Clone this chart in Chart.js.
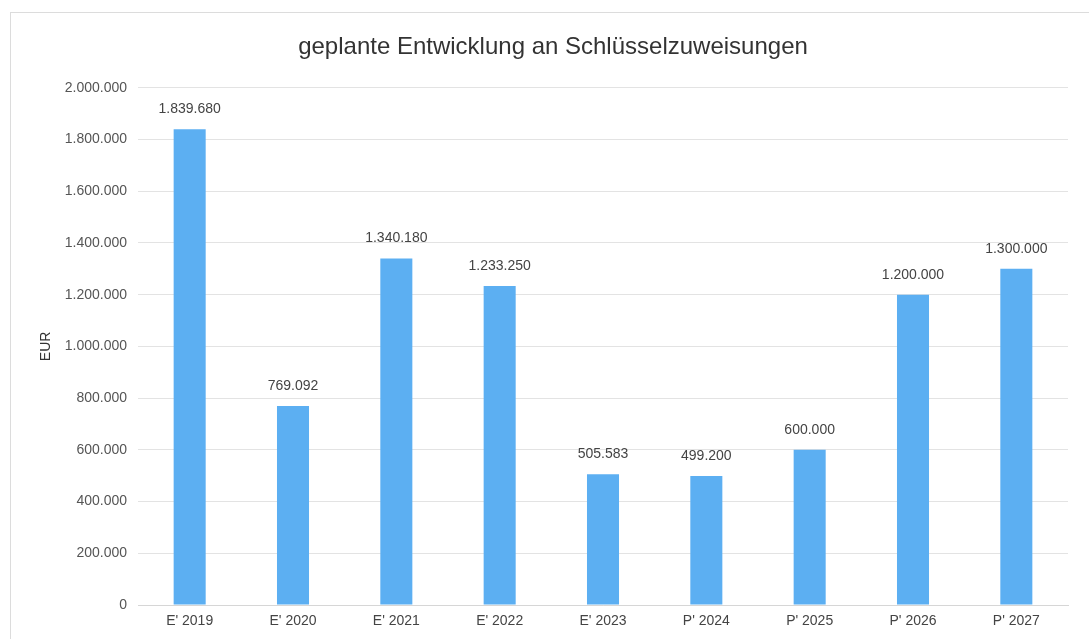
<!DOCTYPE html>
<html>
<head>
<meta charset="utf-8">
<script src="https://cdn.jsdelivr.net/npm/chart.js@4"></script>
<style>
html,body{margin:0;padding:0;background:#fff;}
#wrap{position:relative;width:1089px;height:639px;overflow:hidden;}
#frame{position:absolute;left:10px;top:12px;width:1100px;height:660px;border:1px solid #dcdcdc;box-sizing:border-box;}
canvas{position:absolute;left:0;top:0;}
</style>
</head>
<body>
<div id="wrap">
<div id="frame"></div>
<canvas id="c" width="1089" height="639"></canvas>
</div>
<script>
const categories = ["E' 2019","E' 2020","E' 2021","E' 2022","E' 2023","P' 2024","P' 2025","P' 2026","P' 2027"];
const values = [1839680, 769092, 1340180, 1233250, 505583, 499200, 600000, 1200000, 1300000];
const yTickValues = [0, 200000, 400000, 600000, 800000, 1000000, 1200000, 1400000, 1600000, 1800000, 2000000];
const chartTitle = "geplante Entwicklung an Schlüsselzuweisungen";
const yAxisTitle = "EUR";

function fmt(v){ return String(Math.round(v)).replace(/\B(?=(\d{3})+(?!\d))/g, "."); }

const FONT = "'Liberation Sans', Arial, sans-serif";

const labelPlugin = {
  id: 'barLabels',
  afterDatasetsDraw(chart){
    const ctx = chart.ctx;
    const meta = chart.getDatasetMeta(0);
    ctx.save();
    ctx.font = "14px " + FONT;
    ctx.fillStyle = "#444";
    ctx.textAlign = "center";
    ctx.textBaseline = "middle";
    meta.data.forEach((bar, i) => {
      ctx.fillText(fmt(values[i]), bar.x, bar.y - 20);
    });
    ctx.restore();
  }
};

new Chart(document.getElementById('c'), {
  type: 'bar',
  data: {
    labels: categories,
    datasets: [{
      data: values,
      backgroundColor: '#5caff2',
      borderWidth: 0,
      barPercentage: 0.62,
      categoryPercentage: 0.5
    }]
  },
  options: {
    responsive: false,
    animation: false,
    layout: { padding: { left: 38, right: 21, top: 12, bottom: 4 } },
    plugins: {
      legend: { display: false },
      tooltip: { enabled: false },
      title: {
        display: true,
        text: chartTitle,
        color: '#333',
        font: { family: FONT, size: 24, weight: 'normal' },
        padding: { top: 21, bottom: 26 }
      }
    },
    scales: {
      x: {
        afterFit(scale){ scale.height = 30; },
        grid: { display: false, drawTicks: false },
        border: { display: true, color: '#d6d6d6', width: 1 },
        ticks: { color: '#444', font: { family: FONT, size: 14 }, padding: 8, maxRotation: 0 }
      },
      y: {
        min: 0,
        max: 2000000,
        afterBuildTicks(scale){ scale.ticks = yTickValues.map(v => ({ value: v })); },
        afterFit(scale){ scale.width = 100; },
        grid: { color: '#e3e3e3', drawTicks: false, lineWidth: 1 },
        border: { display: false },
        ticks: { color: '#555', font: { family: FONT, size: 14 }, padding: 11, callback: v => fmt(v) },
        title: { display: true, text: yAxisTitle, color: '#333', font: { family: FONT, size: 14 }, padding: { top: 0, bottom: 0 } }
      }
    }
  },
  plugins: [labelPlugin]
});
</script>
</body>
</html>
